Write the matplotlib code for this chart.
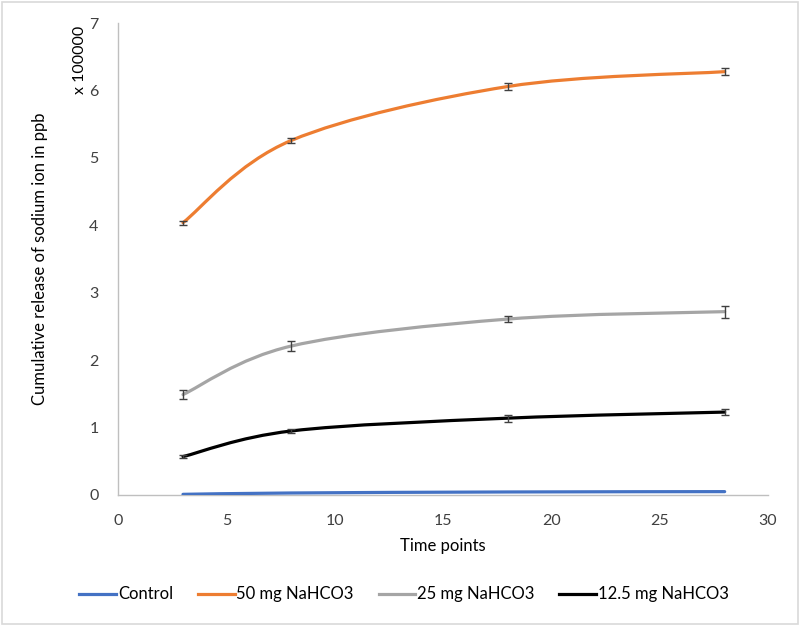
import matplotlib
matplotlib.use("Agg")
import matplotlib.pyplot as plt
from matplotlib.path import Path
from matplotlib.patches import PathPatch, Rectangle
from matplotlib.lines import Line2D
import numpy as np

plt.rcParams["font.family"] = ["Lato", "DejaVu Sans"]

days = [3, 8, 18, 28]
series_names = ["Control", "50 mg NaHCO3", "25 mg NaHCO3", "12.5 mg NaHCO3"]
control = [0.01, 0.03, 0.045, 0.05]
mg50 = [4.04, 5.26, 6.06, 6.28]
mg25 = [1.49, 2.21, 2.61, 2.72]
mg12 = [0.57, 0.95, 1.14, 1.23]
err_control = [0.0, 0.0, 0.0, 0.0]
err_50 = [0.03, 0.04, 0.05, 0.05]
err_25 = [0.07, 0.08, 0.04, 0.09]
err_12 = [0.02, 0.03, 0.05, 0.05]

COLORS = ["#4472C4", "#ED7D31", "#A5A5A5", "#000000"]


def smooth_path(x, y):
    """Excel-style smoothed line: Catmull-Rom control points as cubic Beziers."""
    pts = np.column_stack([x, y]).astype(float)
    ext = np.vstack([pts[0], pts, pts[-1]])
    verts = [pts[0]]
    codes = [Path.MOVETO]
    for i in range(1, len(ext) - 2):
        p0, p1, p2, p3 = ext[i - 1], ext[i], ext[i + 1], ext[i + 2]
        verts += [p1 + (p2 - p0) / 6.0, p2 - (p3 - p1) / 6.0, p2]
        codes += [Path.CURVE4] * 3
    return Path(verts, codes)


fig = plt.figure(figsize=(8, 6.25), dpi=100)
fig.patches.append(Rectangle((0.002, 0.002), 0.996, 0.995, transform=fig.transFigure,
                             fill=False, ec="#D9D9D9", lw=1.2))
ax = fig.add_axes([0.1475, 0.208, 0.8125, 0.755])

data = [control, mg50, mg25, mg12]
errs = [err_control, err_50, err_25, err_12]
handles = []
for vals, err, col, name in zip(data, errs, COLORS, series_names):
    ax.add_patch(PathPatch(smooth_path(days, vals), fill=False, ec=col, lw=2.3,
                           capstyle="round", zorder=3))
    if any(e > 0 for e in err):
        ax.errorbar(days, vals, yerr=err, fmt="none", ecolor="#404040",
                    elinewidth=1.0, capsize=3, capthick=1.0, zorder=4)
    handles.append(Line2D([], [], color=col, lw=2.3))

ax.set_xlim(0, 30)
ax.set_ylim(0, 7)
ax.set_xticks(range(0, 31, 5))
ax.set_yticks(range(0, 8))
ax.tick_params(length=0, labelsize=11.5, colors="#404040")
ax.tick_params(axis="y", pad=14)
ax.tick_params(axis="x", pad=14)
for s in ["top", "right"]:
    ax.spines[s].set_visible(False)
for s in ["left", "bottom"]:
    ax.spines[s].set_color("#BFBFBF")
    ax.spines[s].set_linewidth(1.0)

ax.set_xlabel("Time points", fontsize=12, color="#000000", labelpad=7)
ax.set_ylabel("Cumulative release of sodium ion in ppb", fontsize=12, labelpad=30)
fig.text(0.1, 0.905, "x 100000", rotation=90, ha="center", va="center", fontsize=11.5)

fig.legend(handles, series_names, loc="center", bbox_to_anchor=(0.505, 0.049),
           ncol=4, frameon=False, fontsize=12, handlelength=2.2, handletextpad=0.1,
           columnspacing=1.5)

fig.savefig("out.png", dpi=100)
